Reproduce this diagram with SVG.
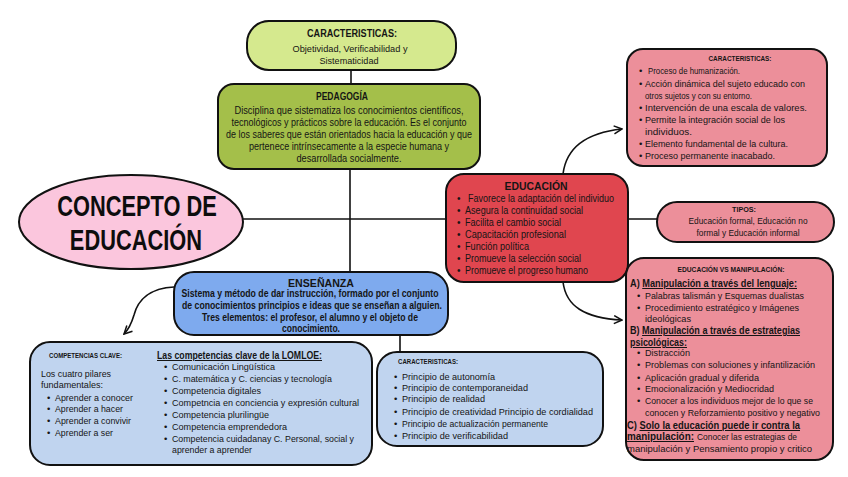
<svg xmlns="http://www.w3.org/2000/svg" width="848" height="477" viewBox="0 0 848 477">
<defs>
<style>
text{font-family:"Liberation Sans",Arial,sans-serif;fill:#151515}
.box{stroke:#111;stroke-width:2}
.g1{fill:#d5e98e}.g2{fill:#a4bf4a}.pk{fill:#fbc6dd}.rd{fill:#e0464f}.rp{fill:#ec8f9a}.bl{fill:#7eaaee}.lb{fill:#c0d4ef}
.h{font-weight:bold;font-size:11px}
.hs{font-weight:bold;font-size:7.5px}
.b{font-size:10px}
.s{font-size:9.5px}
.bb{font-size:10px;font-weight:bold}
.u{text-decoration:underline}
.ln{stroke:#111;stroke-width:1.6;fill:none}
.big{font-weight:bold;font-size:30px;fill:#0d0d0d}
</style>
<marker id="ah" viewBox="0 0 10 10" refX="9" refY="5" markerWidth="10" markerHeight="10" markerUnits="userSpaceOnUse" orient="auto">
<path d="M1,1 L9,5 L1,9" fill="none" stroke="#111" stroke-width="1.5"/>
</marker>
</defs>
<rect width="848" height="477" fill="#ffffff"/>

<g id="connectors">
<line class="ln" x1="351" y1="70" x2="351" y2="84"/>
<line class="ln" x1="350" y1="169" x2="350" y2="272"/>
<line class="ln" x1="240" y1="219" x2="657" y2="219"/>
<line class="ln" x1="400" y1="335" x2="400" y2="352"/>
<path class="ln" d="M563,174 C566,150 584,133 622,129" marker-end="url(#ah)"/>
<path class="ln" d="M563,282 C566,306 584,318 622,320" marker-end="url(#ah)"/>
<path class="ln" d="M174,287 C150,288 138,300 134,315 C131,325 128,330 124,334" marker-end="url(#ah)"/>
</g>

<g id="caracteristicas-top">
<rect class="box g1" x="247" y="21" width="209" height="49" rx="22"/>
<text class="h" x="352" y="37" text-anchor="middle" textLength="90" lengthAdjust="spacingAndGlyphs">CARACTERISTICAS:</text>
<text class="s" x="350" y="52" text-anchor="middle" textLength="115" lengthAdjust="spacingAndGlyphs">Objetividad, Verificabilidad y</text>
<text class="s" x="349" y="64" text-anchor="middle" textLength="59" lengthAdjust="spacingAndGlyphs">Sistematicidad</text>
</g>

<g id="pedagogia">
<rect class="box g2" x="218" y="84" width="262" height="85" rx="16"/>
<text class="h" x="342" y="100" text-anchor="middle" textLength="52" lengthAdjust="spacingAndGlyphs">PEDAGOGÍA</text>
<text class="b" x="349" y="114" text-anchor="middle" textLength="229" lengthAdjust="spacingAndGlyphs">Disciplina que sistematiza los conocimientos científicos,</text>
<text class="b" x="349" y="126" text-anchor="middle" textLength="235" lengthAdjust="spacingAndGlyphs">tecnológicos y prácticos sobre la educación. Es el conjunto</text>
<text class="b" x="349" y="138" text-anchor="middle" textLength="246" lengthAdjust="spacingAndGlyphs">de los saberes que están orientados hacia la educación y que</text>
<text class="b" x="349" y="150" text-anchor="middle" textLength="200" lengthAdjust="spacingAndGlyphs">pertenece intrínsecamente a la especie humana y</text>
<text class="b" x="349" y="162" text-anchor="middle" textLength="105" lengthAdjust="spacingAndGlyphs">desarrollada socialmente.</text>
</g>

<g id="concepto">
<ellipse class="box pk" cx="131" cy="222" rx="112" ry="47"/>
<text class="big" transform="translate(137,0) scale(0.728,1)" text-anchor="middle"><tspan x="0" y="216">CONCEPTO DE</tspan><tspan x="-1.5" y="250">EDUCACIÓN</tspan></text>
</g>

<g id="educacion">
<rect class="box rd" x="446" y="174" width="182" height="108" rx="18"/>
<text class="h" x="536" y="190" text-anchor="middle" textLength="63" lengthAdjust="spacingAndGlyphs">EDUCACIÓN</text>
<text class="b" x="457" y="202">•</text><text class="b" x="468" y="202" textLength="146" lengthAdjust="spacingAndGlyphs">Favorece la adaptación del individuo</text>
<text class="b" x="457" y="214">•</text><text class="b" x="465" y="214" textLength="118" lengthAdjust="spacingAndGlyphs">Asegura la continuidad social</text>
<text class="b" x="457" y="226">•</text><text class="b" x="465" y="226" textLength="96" lengthAdjust="spacingAndGlyphs">Facilita el cambio social</text>
<text class="b" x="457" y="238">•</text><text class="b" x="465" y="238" textLength="101" lengthAdjust="spacingAndGlyphs">Capacitación profesional</text>
<text class="b" x="457" y="250">•</text><text class="b" x="465" y="250" textLength="64" lengthAdjust="spacingAndGlyphs">Función política</text>
<text class="b" x="457" y="262">•</text><text class="b" x="465" y="262" textLength="116" lengthAdjust="spacingAndGlyphs">Promueve la selección social</text>
<text class="b" x="457" y="274">•</text><text class="b" x="465" y="274" textLength="123" lengthAdjust="spacingAndGlyphs">Promueve el progreso humano</text>
</g>

<g id="caracteristicas-educacion">
<rect class="box rp" x="627" y="49" width="200" height="117" rx="16"/>
<text class="hs" x="740" y="61" text-anchor="middle" textLength="63" lengthAdjust="spacingAndGlyphs">CARACTERISTICAS:</text>
<text class="s" x="639" y="74">•</text><text class="s" x="648" y="74" textLength="92" lengthAdjust="spacingAndGlyphs">Proceso de humanización.</text>
<text class="s" x="639" y="87">•</text><text class="s" x="645" y="87" textLength="160" lengthAdjust="spacingAndGlyphs">Acción dinámica del sujeto educado con</text>
<text class="s" x="645" y="99" textLength="107" lengthAdjust="spacingAndGlyphs">otros sujetos y con su entorno.</text>
<text class="s" x="639" y="111">•</text><text class="s" x="645" y="111" textLength="162" lengthAdjust="spacingAndGlyphs">Intervención de una escala de valores.</text>
<text class="s" x="639" y="123">•</text><text class="s" x="645" y="123" textLength="140" lengthAdjust="spacingAndGlyphs">Permite la integración social de los</text>
<text class="s" x="645" y="135" textLength="47" lengthAdjust="spacingAndGlyphs">individuos.</text>
<text class="s" x="639" y="147">•</text><text class="s" x="645" y="147" textLength="143" lengthAdjust="spacingAndGlyphs">Elemento fundamental de la cultura.</text>
<text class="s" x="639" y="159">•</text><text class="s" x="645" y="159" textLength="130" lengthAdjust="spacingAndGlyphs">Proceso permanente inacabado.</text>
</g>

<g id="tipos">
<rect class="box rp" x="657" y="202" width="177" height="40" rx="20"/>
<text class="hs" x="744" y="212" text-anchor="middle" textLength="24" lengthAdjust="spacingAndGlyphs">TIPOS:</text>
<text class="s" x="748" y="224" text-anchor="middle" textLength="119" lengthAdjust="spacingAndGlyphs">Educación formal, Educación no</text>
<text class="s" x="748" y="236" text-anchor="middle" textLength="103" lengthAdjust="spacingAndGlyphs">formal y Educación informal</text>
</g>

<g id="educacion-vs-manipulacion">
<rect class="box rp" x="626" y="258" width="207" height="202" rx="18"/>
<text class="hs" x="731" y="272" text-anchor="middle" textLength="107" lengthAdjust="spacingAndGlyphs">EDUCACIÓN VS MANIPULACIÓN:</text>
<text class="bb" x="630" y="287" textLength="167" lengthAdjust="spacingAndGlyphs">A) <tspan class="u">Manipulación a través del lenguaje:</tspan></text>
<text class="s" x="637" y="299">•</text><text class="s" x="645" y="299" textLength="159" lengthAdjust="spacingAndGlyphs">Palabras talismán y Esquemas dualistas</text>
<text class="s" x="637" y="311">•</text><text class="s" x="645" y="311" textLength="154" lengthAdjust="spacingAndGlyphs">Procedimiento estratégico y Imágenes</text>
<text class="s" x="645" y="322" textLength="46" lengthAdjust="spacingAndGlyphs">ideológicas</text>
<text class="bb" x="630" y="334" textLength="170" lengthAdjust="spacingAndGlyphs">B) <tspan class="u">Manipulación a través de estrategias</tspan></text>
<text class="bb u" x="630" y="346" textLength="57" lengthAdjust="spacingAndGlyphs">psicológicas:</text>
<text class="s" x="637" y="356">•</text><text class="s" x="645" y="356" textLength="45" lengthAdjust="spacingAndGlyphs">Distracción</text>
<text class="s" x="637" y="368">•</text><text class="s" x="645" y="368" textLength="170" lengthAdjust="spacingAndGlyphs">Problemas con soluciones y infantilización</text>
<text class="s" x="637" y="381">•</text><text class="s" x="645" y="381" textLength="114" lengthAdjust="spacingAndGlyphs">Aplicación gradual y diferida</text>
<text class="s" x="637" y="392">•</text><text class="s" x="645" y="392" textLength="129" lengthAdjust="spacingAndGlyphs">Emocionalización y Mediocridad</text>
<text class="s" x="637" y="404">•</text><text class="s" x="645" y="404" textLength="168" lengthAdjust="spacingAndGlyphs">Conocer a los individuos mejor de lo que se</text>
<text class="s" x="645" y="416" textLength="175" lengthAdjust="spacingAndGlyphs">conocen y Reforzamiento positivo y negativo</text>
<text class="bb" x="627" y="429" textLength="173" lengthAdjust="spacingAndGlyphs">C) <tspan class="u">Solo la educación puede ir contra la</tspan></text>
<text class="bb u" x="627" y="440" textLength="67" lengthAdjust="spacingAndGlyphs">manipulación:</text>
<text class="s" x="697" y="440" textLength="100" lengthAdjust="spacingAndGlyphs">Conocer las estrategias de</text>
<text class="s" x="627" y="452" textLength="185" lengthAdjust="spacingAndGlyphs">manipulación  y Pensamiento propio y critico</text>
</g>

<g id="ensenanza">
<rect class="box bl" x="174" y="272" width="274" height="63" rx="20"/>
<text class="h" x="321" y="287" text-anchor="middle" textLength="66" lengthAdjust="spacingAndGlyphs">ENSEÑANZA</text>
<text class="bb" x="310" y="297" text-anchor="middle" textLength="257" lengthAdjust="spacingAndGlyphs" style="font-weight:600">Sistema y método de dar instrucción, formado por el conjunto</text>
<text class="bb" x="312" y="309" text-anchor="middle" textLength="260" lengthAdjust="spacingAndGlyphs" style="font-weight:600">de conocimientos principios e ideas que se enseñan a alguien.</text>
<text class="bb" x="310" y="321" text-anchor="middle" textLength="216" lengthAdjust="spacingAndGlyphs" style="font-weight:600">Tres elementos: el profesor, el alumno y el objeto de</text>
<text class="bb" x="311" y="332" text-anchor="middle" textLength="58" lengthAdjust="spacingAndGlyphs" style="font-weight:600">conocimiento.</text>
</g>

<g id="competencias-clave">
<rect class="box lb" x="30" y="342" width="342" height="123" rx="20"/>
<text class="hs" x="49" y="358" textLength="73" lengthAdjust="spacingAndGlyphs">COMPETENCIAS CLAVE:</text>
<text class="bb u" x="157" y="359" textLength="165" lengthAdjust="spacingAndGlyphs">Las competencias clave de la LOMLOE:</text>
<text class="s" x="41" y="377" textLength="70" lengthAdjust="spacingAndGlyphs">Los cuatro pilares</text>
<text class="s" x="41" y="388" textLength="62" lengthAdjust="spacingAndGlyphs">fundamentales:</text>
<text class="s" x="47" y="401">•</text><text class="s" x="55" y="401" textLength="78" lengthAdjust="spacingAndGlyphs">Aprender a conocer</text>
<text class="s" x="47" y="412">•</text><text class="s" x="55" y="412" textLength="68" lengthAdjust="spacingAndGlyphs">Aprender a hacer</text>
<text class="s" x="47" y="424">•</text><text class="s" x="55" y="424" textLength="76" lengthAdjust="spacingAndGlyphs">Aprender a convivir</text>
<text class="s" x="47" y="436">•</text><text class="s" x="55" y="436" textLength="58" lengthAdjust="spacingAndGlyphs">Aprender a ser</text>
<text class="s" x="164" y="370">•</text><text class="s" x="172" y="370" textLength="103" lengthAdjust="spacingAndGlyphs">Comunicación Lingüística</text>
<text class="s" x="164" y="382">•</text><text class="s" x="172" y="382" textLength="160" lengthAdjust="spacingAndGlyphs">C. matemática y C. ciencias y tecnología</text>
<text class="s" x="164" y="394">•</text><text class="s" x="172" y="394" textLength="89" lengthAdjust="spacingAndGlyphs">Competencia digitales</text>
<text class="s" x="164" y="406">•</text><text class="s" x="172" y="406" textLength="187" lengthAdjust="spacingAndGlyphs">Competncia en conciencia y expresión cultural</text>
<text class="s" x="164" y="418">•</text><text class="s" x="172" y="418" textLength="97" lengthAdjust="spacingAndGlyphs">Competencia plurilingüe</text>
<text class="s" x="164" y="430">•</text><text class="s" x="172" y="430" textLength="115" lengthAdjust="spacingAndGlyphs">Competencia emprendedora</text>
<text class="s" x="164" y="442">•</text><text class="s" x="172" y="442" textLength="182" lengthAdjust="spacingAndGlyphs">Competencia cuidadanay C. Personal, social y</text>
<text class="s" x="172" y="453" textLength="80" lengthAdjust="spacingAndGlyphs">aprender a aprender</text>
</g>

<g id="caracteristicas-ensenanza">
<rect class="box lb" x="377" y="352" width="226" height="94" rx="20"/>
<text class="hs" x="398" y="364" textLength="60" lengthAdjust="spacingAndGlyphs">CARACTERISTICAS:</text>
<text class="s" x="394" y="380">•</text><text class="s" x="402" y="380" textLength="93" lengthAdjust="spacingAndGlyphs">Principio de autonomía</text>
<text class="s" x="394" y="391">•</text><text class="s" x="402" y="391" textLength="126" lengthAdjust="spacingAndGlyphs">Principio de contemporaneidad</text>
<text class="s" x="394" y="402">•</text><text class="s" x="402" y="402" textLength="83" lengthAdjust="spacingAndGlyphs">Principio de realidad</text>
<text class="s" x="394" y="415">•</text><text class="s" x="402" y="415" textLength="191" lengthAdjust="spacingAndGlyphs">Principio de creatividad Principio de cordialidad</text>
<text class="s" x="394" y="427">•</text><text class="s" x="402" y="427" textLength="146" lengthAdjust="spacingAndGlyphs">Principio de actualización permanente</text>
<text class="s" x="394" y="439">•</text><text class="s" x="402" y="439" textLength="106" lengthAdjust="spacingAndGlyphs">Principio de verificabilidad</text>
</g>
</svg>
